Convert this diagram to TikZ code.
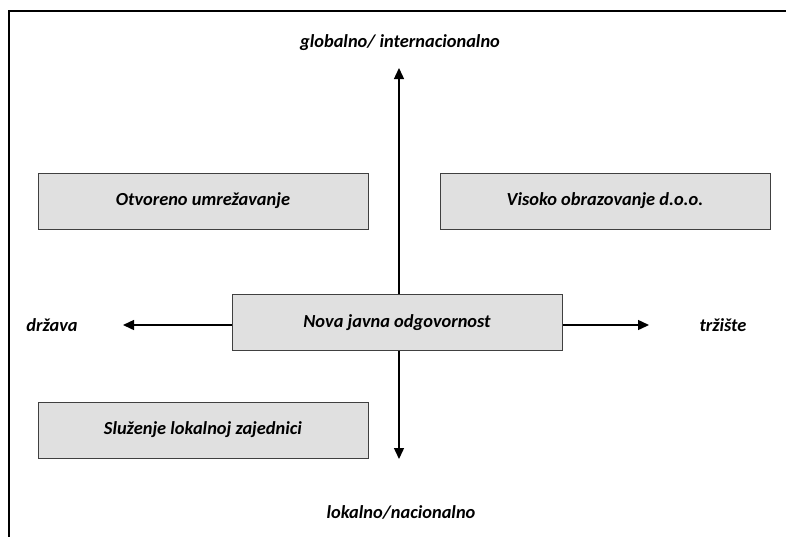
\documentclass[tikz,border=0pt]{standalone}
\usepackage{fontspec}
\setmainfont{Carlito}
\usetikzlibrary{arrows.meta}
\definecolor{boxfill}{HTML}{E0E0E0}
\definecolor{boxline}{HTML}{404040}
\tikzset{
  quadbox/.style={draw=boxline, line width=1pt, fill=boxfill, minimum width=330pt, minimum height=56pt, inner sep=0pt, font=\fontsize{18.4}{21}\selectfont\bfseries\itshape},
  axislabel/.style={inner sep=0pt, font=\fontsize{18.4}{21}\selectfont\bfseries\itshape},
  axisarrow/.style={line width=1.4pt, -{Triangle[length=11pt,width=10pt]}}
}
\begin{document}
\begin{tikzpicture}[x=1pt,y=-1pt]
\useasboundingbox (0,0) rectangle (786,536);
\begin{scope}
\clip (0,0) rectangle (786,536);
\draw[line width=1.6pt] (9,11) rectangle (820,570);
\end{scope}
\node[quadbox] (center) at (397,322.5) {Nova javna odgovornost};
\node[quadbox] (tl) at (203,201) {Otvoreno umrežavanje};
\node[quadbox] (tr) at (605,201) {Visoko obrazovanje d.o.o.};
\node[quadbox] (bl) at (203,430) {Služenje lokalnoj zajednici};
\node[axislabel] (top) at (400,43) {globalno/ internacionalno};
\node[axislabel] (bot) at (401,512) {lokalno/nacionalno};
\node[axislabel] (left) at (52,325) {država};
\node[axislabel] (right) at (723,325) {tržište};
\coordinate (upend) at (399,68);
\coordinate (downend) at (399,459);
\coordinate (leftend) at (123,325);
\coordinate (rightend) at (649,325);
\draw[axisarrow] (center.north -| upend) -- (upend);
\draw[axisarrow] (center.south -| downend) -- (downend);
\draw[axisarrow] (center.west |- leftend) -- (leftend);
\draw[axisarrow] (center.east |- rightend) -- (rightend);
\end{tikzpicture}
\end{document}
